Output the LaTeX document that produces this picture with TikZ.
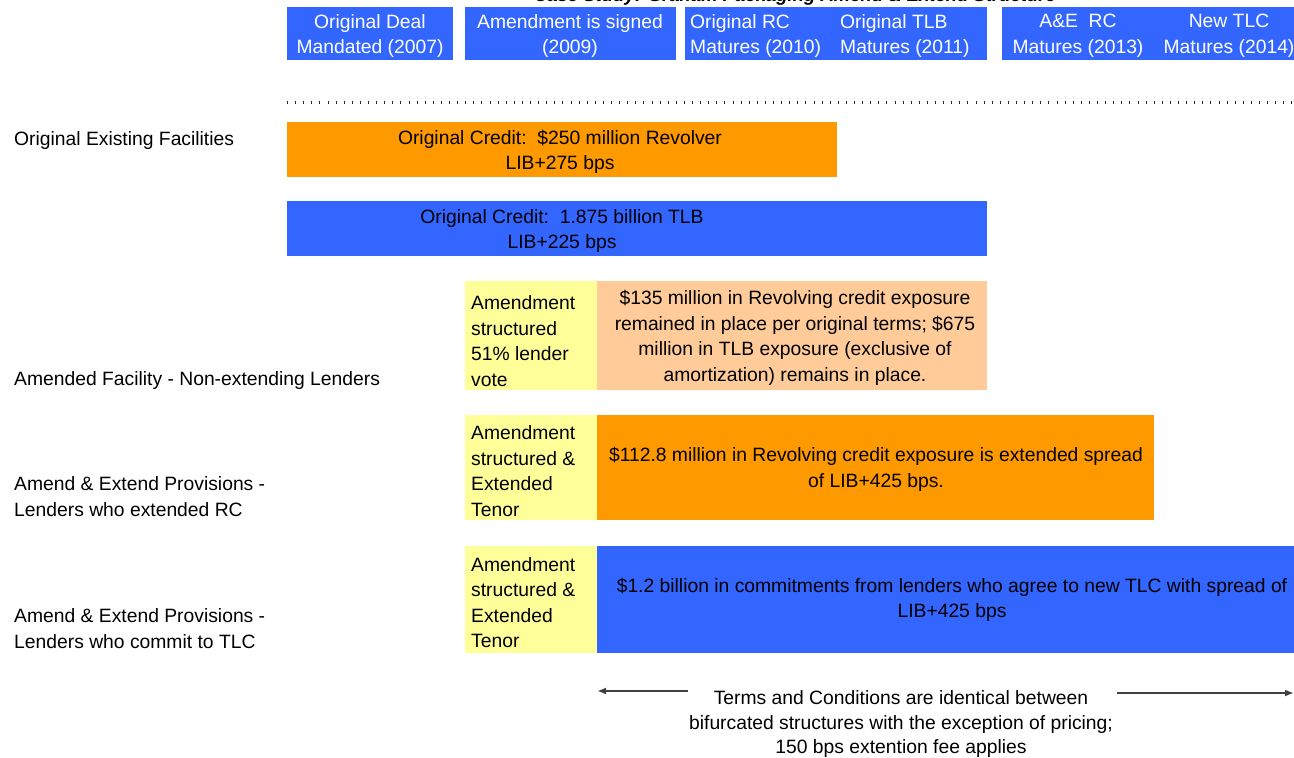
\documentclass[tikz,border=0pt]{standalone}
\usepackage{fontspec}
\setmainfont{Liberation Sans}
\usetikzlibrary{arrows.meta}
\definecolor{hblue}{HTML}{3366FF}
\definecolor{horange}{HTML}{FF9900}
\definecolor{hyellow}{HTML}{FFFF99}
\definecolor{hpeach}{HTML}{FFCC99}
\tikzset{
  bar/.style={fill=#1, draw=none, anchor=north west, inner sep=0pt},
  txt/.style={inner sep=0pt, align=center, font=\fontsize{19.3}{25.5}\selectfont, text=black},
  ltxt/.style={inner sep=0pt, align=left, font=\fontsize{19.3}{25.5}\selectfont, text=black},
  wtxt/.style={txt, text=white},
  arr/.style={-{Latex[length=9pt,width=7pt]}, line width=1.8pt, draw=black!75}
}
\begin{document}
\begin{tikzpicture}[x=1pt,y=-1pt]
\useasboundingbox (0,0) rectangle (1294,758);
\clip (0,0) rectangle (1294,758);
% title (cut off at top)
\node[inner sep=0pt, font=\fontsize{18.5}{22}\selectfont\bfseries\itshape, anchor=base] (title) at (795,1) {Case Study: Graham Packaging Amend \& Extend Structure};
% header boxes
\node[bar=hblue, minimum width=166, minimum height=53] (h1) at (287,7) {};
\node[bar=hblue, minimum width=211, minimum height=53] (h2) at (465,7) {};
\node[bar=hblue, minimum width=302, minimum height=53] (h3) at (685,7) {};
\node[bar=hblue, minimum width=300, minimum height=53] (h4) at (1002,7) {};
\node[wtxt] (t1) at (370,36) {Original Deal\\Mandated (2007)};
\node[wtxt] (t2) at (570,36) {Amendment is signed\\(2009)};
\node[wtxt, align=left, anchor=west] (t3) at (690,36) {Original RC\\Matures (2010)};
\node[wtxt, align=left, anchor=west] (t4) at (840,36) {Original TLB\\Matures (2011)};
\node[wtxt] (t5) at (1078,36) {A\&E~~RC\\Matures (2013)};
\node[wtxt] (t6) at (1229,36) {New TLC\\Matures (2014)};
% dotted line
\coordinate (d1) at (287,102);
\coordinate (d2) at (1294,102);
\draw[line width=3pt, dash pattern=on 1pt off 7.1pt, draw=black!85] (d1) -- (d2);
% left labels
\node[ltxt, anchor=west] (l1) at (14,140.5) {Original Existing Facilities};
\node[ltxt, anchor=west] (l2) at (14,380.5) {Amended Facility - Non-extending Lenders};
\node[ltxt, anchor=west] (l3) at (14,496.5) {Amend \& Extend Provisions -\\Lenders who extended RC};
\node[ltxt, anchor=west] (l4) at (14,628.5) {Amend \& Extend Provisions -\\Lenders who commit to TLC};
% original bars
\node[bar=horange, minimum width=550, minimum height=55] (rc) at (287,122) {};
\node[txt] (rct) at (560,152) {Original Credit:~~\$250 million Revolver\\LIB+275 bps};
\node[bar=hblue, minimum width=700, minimum height=55] (tlb) at (287,201) {};
\node[txt] (tlbt) at (562,231) {Original Credit:~~1.875 billion TLB\\LIB+225 bps};
% non-extending
\node[bar=hyellow, minimum width=132, minimum height=109] (y1) at (465,281) {};
\node[ltxt, anchor=west] (y1t) at (471,341) {Amendment\\structured\\51\% lender\\vote};
\node[bar=hpeach, minimum width=390, minimum height=109] (p1) at (597,281) {};
\node[txt] (p1t) at (795,338) {\$135 million in Revolving credit exposure\\remained in place per original terms; \$675\\million in TLB exposure (exclusive of\\amortization) remains in place.};
% extended RC
\node[bar=hyellow, minimum width=132, minimum height=105] (y2) at (465,415) {};
\node[ltxt, anchor=west] (y2t) at (471,471) {Amendment\\structured \&\\Extended\\Tenor};
\node[bar=horange, minimum width=557, minimum height=105] (o2) at (597,415) {};
\node[txt] (o2t) at (876,469.5) {\$112.8 million in Revolving credit exposure is extended spread\\of LIB+425 bps.};
% TLC
\node[bar=hyellow, minimum width=132, minimum height=107] (y3) at (465,546) {};
\node[ltxt, anchor=west] (y3t) at (471,602.5) {Amendment\\structured \&\\Extended\\Tenor};
\node[bar=hblue, minimum width=710, minimum height=107] (b3) at (597,546) {};
\node[txt] (b3t) at (952,600) {\$1.2 billion in commitments from lenders who agree to new TLC with spread of\\LIB+425 bps};
% bottom note with arrows
\node[txt, font=\fontsize{19.3}{24.5}\selectfont] (note) at (901,724) {Terms and Conditions are identical between\\bifurcated structures with the exception of pricing;\\150 bps extention fee applies};
\coordinate (al1) at (688,691);
\coordinate (al2) at (597,691);
\coordinate (ar1) at (1117,693);
\coordinate (ar2) at (1294,693);
\draw[arr] (al1) -- (al2);
\draw[arr] (ar1) -- (ar2);
\end{tikzpicture}
\end{document}
